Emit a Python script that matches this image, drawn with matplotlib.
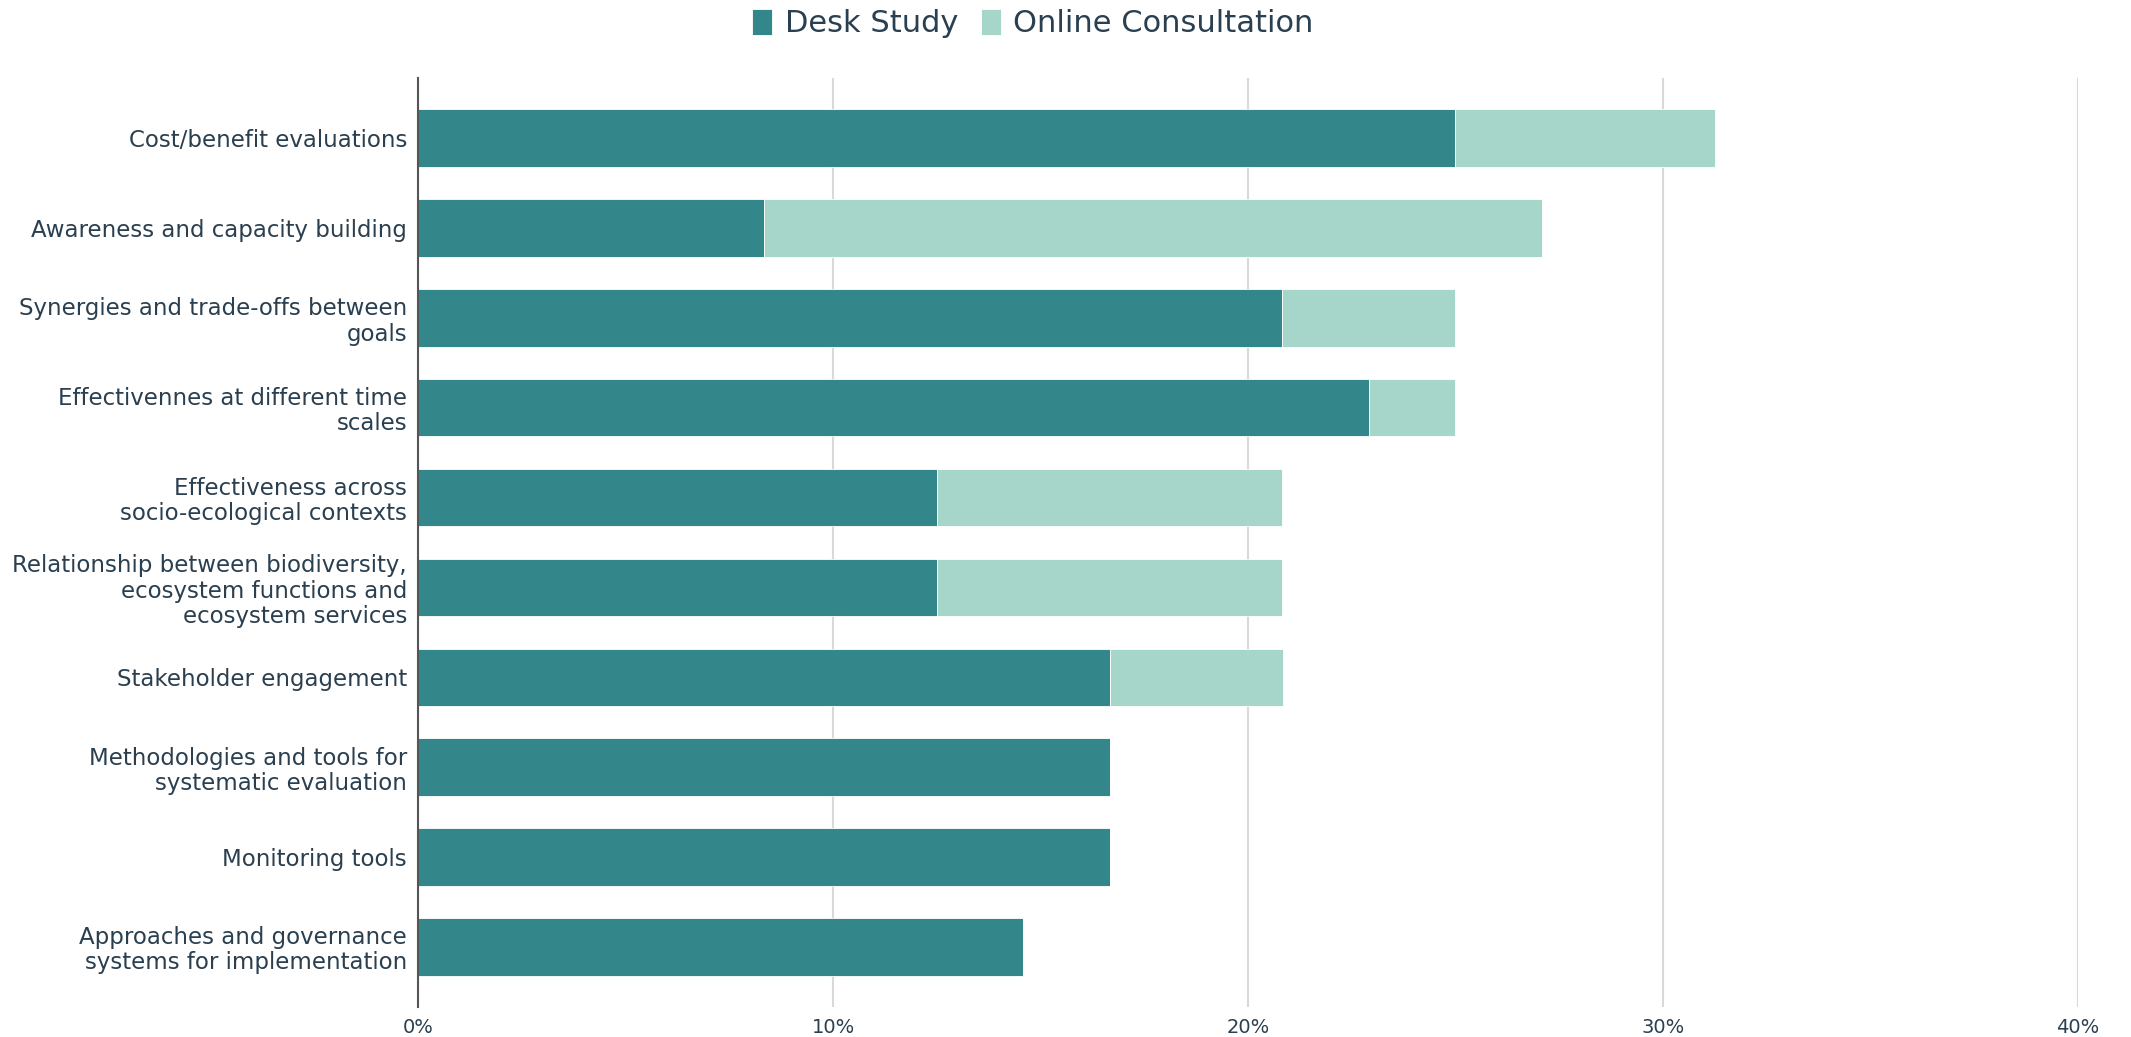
import matplotlib.pyplot as plt
from matplotlib.ticker import FuncFormatter

# data (percent of mentions)
categories = [
    'Cost/benefit evaluations',
    'Awareness and capacity building',
    'Synergies and trade-offs between\ngoals',
    'Effectivennes at different time\nscales',
    'Effectiveness across\nsocio-ecological contexts',
    'Relationship between biodiversity,\necosystem functions and\necosystem services',
    'Stakeholder engagement',
    'Methodologies and tools for\nsystematic evaluation',
    'Monitoring tools',
    'Approaches and governance\nsystems for implementation',
]
desk_study = [25.0, 8.33, 20.83, 22.92, 12.5, 12.5, 16.67, 16.67, 16.67, 14.58]
online_consultation = [6.25, 18.75, 4.17, 2.08, 8.33, 8.33, 4.17, 0, 0, 0]
xticks = [0, 10, 20, 30, 40]

desk_color = '#33878b'
online_color = '#a6d5ca'
text_color = '#2a3f4f'

fig = plt.figure(figsize=(21.31, 10.37), dpi=100)
ax = fig.add_axes([0.1962, 0.0289, 0.7789, 0.8959])

y = list(range(len(categories)))
ax.barh(y, desk_study, height=0.64, color=desk_color, edgecolor='#ffffff',
        linewidth=0.6, label='Desk Study', zorder=3)
ax.barh(y, online_consultation, left=desk_study, height=0.64, color=online_color,
        edgecolor='#ffffff', linewidth=0.6, label='Online Consultation', zorder=3)

ax.set_ylim(9.67, -0.67)
ax.set_xlim(0, 40)
ax.set_yticks(y)
ax.set_yticklabels(categories, fontsize=16.5, color=text_color, linespacing=1.12)
ax.set_xticks(xticks)
ax.xaxis.set_major_formatter(FuncFormatter(lambda v, p: f'{v:.0f}%'))
ax.tick_params(axis='x', length=0, pad=8, labelsize=14, labelcolor=text_color)
ax.tick_params(axis='y', length=0, pad=8)

ax.grid(axis='x', color='#d9d9d9', linewidth=1.5, zorder=0)
for s in ['top', 'right', 'bottom']:
    ax.spines[s].set_visible(False)
ax.spines['left'].set_color('#555555')
ax.spines['left'].set_linewidth(1.5)
ax.spines['left'].set_zorder(4)

fig.legend(loc='center', bbox_to_anchor=(0.4847, 0.977), ncol=2, frameon=False,
           fontsize=22, labelcolor=text_color, handlelength=0.65, handleheight=0.9,
           handletextpad=0.4, columnspacing=0.75)

fig.savefig('out.png', dpi=100, facecolor='white')
